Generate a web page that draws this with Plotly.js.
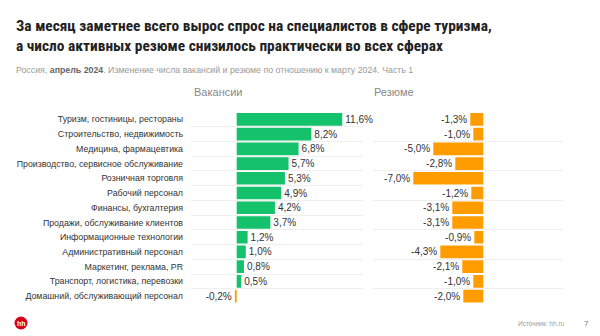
<!DOCTYPE html>
<html><head><meta charset="utf-8">
<script src="https://cdn.plot.ly/plotly-3.0.1.min.js"></script>
<style>html,body{margin:0;padding:0;background:#fff}#chart{width:600px;height:336px}</style>
</head><body><div id="chart"></div>
<script>
const categories = [
  "Туризм, гостиницы, рестораны",
  "Строительство, недвижимость",
  "Медицина, фармацевтика",
  "Производство, сервисное обслуживание",
  "Розничная торговля",
  "Рабочий персонал",
  "Финансы, бухгалтерия",
  "Продажи, обслуживание клиентов",
  "Информационные технологии",
  "Административный персонал",
  "Маркетинг, реклама, PR",
  "Транспорт, логистика, перевозки",
  "Домашний, обслуживающий персонал"
];
const vacancies = [11.6, 8.2, 6.8, 5.7, 5.3, 4.9, 4.2, 3.7, 1.2, 1.0, 0.8, 0.5, -0.2];
const resumes = [-1.3, -1.0, -5.0, -2.8, -7.0, -1.2, -3.1, -3.1, -0.9, -4.3, -2.1, -1.0, -2.0];

const GREEN = '#13c26b', ORANGE = '#ff9d00';
const W = 600, H = 336;
const px = x => x / W, py = y => 1 - y / H;
const col = v => v.map(d => d >= 0 ? GREEN : ORANGE);
const ARIAL = 'Arial, "Liberation Sans", sans-serif';

const textFont = {family: ARIAL, size: 10, color: '#333'};

const traces = [
  {type: 'bar', orientation: 'h', y: categories, x: vacancies, xaxis: 'x', yaxis: 'y',
   marker: {color: col(vacancies), line: {width: 0}}, texttemplate: '%{x:.1f}%', textposition: 'outside',
   cliponaxis: false, textfont: textFont, hoverinfo: 'skip'},
  {type: 'bar', orientation: 'h', y: categories, x: resumes, xaxis: 'x2', yaxis: 'y2',
   marker: {color: col(resumes), line: {width: 0}}, texttemplate: '%{x:.1f}%', textposition: 'outside',
   cliponaxis: false, textfont: textFont, hoverinfo: 'skip'}
];

const yCommon = {
  type: 'category', autorange: 'reversed', domain: [py(303.5), py(112)],
  showgrid: true, gridcolor: '#efefef', gridwidth: 1, tickson: 'boundaries', ticks: '',
  zeroline: false, showline: false, fixedrange: true
};

const layout = {
  width: W, height: H, margin: {l: 0, r: 0, t: 0, b: 0},
  paper_bgcolor: '#fff', plot_bgcolor: 'rgba(0,0,0,0)',
  showlegend: false, bargap: 0.14, separators: ', ',
  font: {family: ARIAL, color: '#333'},
  xaxis: {domain: [px(191), px(363)], range: [-5.02, 13.88], visible: false, fixedrange: true},
  xaxis2: {domain: [px(373), px(563)], range: [-11.03, 7.97], visible: false, fixedrange: true},
  yaxis: Object.assign({}, yCommon, {anchor: 'x', showticklabels: true, ticklabelstandoff: 7,
    tickfont: {family: ARIAL, size: 8.8, color: '#333'}}),
  yaxis2: Object.assign({}, yCommon, {anchor: 'x2', showticklabels: false}),
  shapes: [
    {type: 'circle', xref: 'paper', yref: 'paper', x0: px(14.5), x1: px(27.5), y0: py(329.5), y1: py(316.5),
     fillcolor: '#d6001c', line: {width: 0}}
  ],
  annotations: [
    {xref: 'paper', yref: 'paper', x: px(14), y: py(36.5), xanchor: 'left', yanchor: 'middle', align: 'left',
     showarrow: false,
     text: '<b>За месяц заметнее всего вырос спрос на специалистов в сфере туризма,<br>а число активных резюме снизилось практически во всех сферах</b>',
     font: {family: '"Liberation Sans Narrow", "Roboto Condensed", sans-serif', size: 15.4, color: '#222'}},
    {xref: 'paper', yref: 'paper', x: px(14), y: py(70), xanchor: 'left', yanchor: 'middle', showarrow: false,
     text: 'Россия, <b><span style="color:#666">апрель 2024</span></b>. Изменение числа вакансий и резюме по отношению к марту 2024. Часть 1',
     font: {family: ARIAL, size: 8.8, color: '#9a9a9a'}},
    {xref: 'paper', yref: 'paper', x: px(192), y: py(92), xanchor: 'left', yanchor: 'middle', showarrow: false,
     text: 'Вакансии', font: {family: ARIAL, size: 11, color: '#888'}},
    {xref: 'paper', yref: 'paper', x: px(372), y: py(92), xanchor: 'left', yanchor: 'middle', showarrow: false,
     text: 'Резюме', font: {family: ARIAL, size: 11, color: '#888'}},
    {xref: 'paper', yref: 'paper', x: px(21), y: py(323), xanchor: 'center', yanchor: 'middle', showarrow: false,
     text: '<b>hh</b>', font: {family: ARIAL, size: 7, color: '#fff'}},
    {xref: 'paper', yref: 'paper', x: px(567), y: py(323), xanchor: 'right', yanchor: 'middle', showarrow: false,
     text: 'Источник: hh.ru', font: {family: ARIAL, size: 6.5, color: '#9a9a9a'}},
    {xref: 'paper', yref: 'paper', x: px(586), y: py(323), xanchor: 'center', yanchor: 'middle', showarrow: false,
     text: '7', font: {family: ARIAL, size: 8, color: '#777'}}
  ]
};

Plotly.newPlot('chart', traces, layout, {displayModeBar: false, staticPlot: true});
</script></body></html>
